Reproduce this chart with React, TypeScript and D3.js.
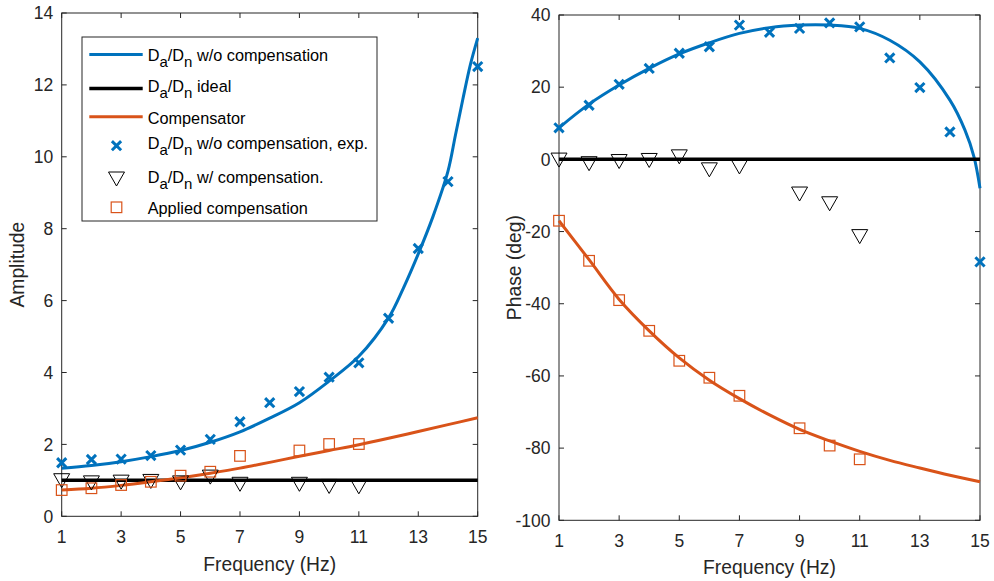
import React from 'react';
import * as d3 from 'd3';

// ---------- data ----------
const freq = [1, 2, 3, 4, 5, 6, 7, 8, 9, 10, 11, 12, 13, 14, 15];
const compFreq = [1, 2, 3, 4, 5, 6, 7, 9, 10, 11];

// Amplitude panel
const ampExp = [1.49, 1.58, 1.59, 1.69, 1.84, 2.14, 2.63, 3.16, 3.47, 3.87, 4.27, 5.51, 7.45, 9.31, 12.51];
const ampWithComp = [0.99, 0.93, 0.95, 0.97, 0.93, 1.09, 0.89, 0.89, 0.83, 0.82];
const ampApplied = [0.73, 0.78, 0.87, 0.96, 1.13, 1.24, 1.68, 1.83, 2.01, 2.01];
const ampModelFreq = [1, 2, 3, 4, 5, 6, 7, 8, 9, 10, 11, 12, 12.5, 13, 13.5, 14, 14.25, 14.5, 14.75, 15];
const ampModel = [1.335, 1.41, 1.52, 1.66, 1.83, 2.06, 2.35, 2.73, 3.16, 3.76, 4.45, 5.52, 6.35, 7.3, 8.35, 9.6, 10.6, 11.6, 12.55, 13.3];
const ampCompensator = [0.73, 0.78, 0.86, 0.96, 1.07, 1.2, 1.34, 1.5, 1.67, 1.83, 1.99, 2.17, 2.36, 2.55, 2.74];
const ampIdeal = [1, 1];

// Phase panel
const phaseExp = [8.75, 15.0, 20.8, 25.2, 29.4, 31.2, 37.2, 35.2, 36.3, 37.8, 36.7, 28.1, 19.9, 7.6, -28.4];
const phaseWithComp = [-0.2, -1.2, -0.6, -0.3, 0.7, -2.9, -2.1, -9.6, -12.3, -21.4];
const phaseApplied = [-17.0, -28.1, -39.0, -47.5, -55.8, -60.5, -65.5, -74.5, -79.3, -83.1];
const phaseModelFreq = [1, 2, 3, 4, 5, 6, 7, 8, 9, 10, 11, 12, 13, 14, 14.5, 14.8, 15];
const phaseModel = [8.75, 15.3, 20.6, 25.2, 29.2, 32.3, 34.9, 36.5, 37.2, 37.2, 36.3, 33.0, 27.0, 16.4, 8.1, 0.7, -8.0];
const phaseCompensator = [-17.0, -27.8, -38.8, -47.5, -55.0, -61.2, -66.3, -70.8, -74.8, -78.0, -80.9, -83.4, -85.5, -87.5, -89.3];
const phaseIdeal = [0, 0];

const xTicks = [1, 3, 5, 7, 9, 11, 13, 15];
const ampTicks = [0, 2, 4, 6, 8, 10, 12, 14];
const phaseTicks = [-100, -80, -60, -40, -20, 0, 20, 40];

const legendLabels = [
  ['D', 'a', '/D', 'n', ' w/o compensation'],
  ['D', 'a', '/D', 'n', ' ideal'],
  ['Compensator'],
  ['D', 'a', '/D', 'n', ' w/o compensation, exp.'],
  ['D', 'a', '/D', 'n', ' w/ compensation.'],
  ['Applied compensation'],
];

// ---------- style ----------
const FONT = '"Liberation Sans", Arial, Helvetica, sans-serif';
const AX = '#262626';
const BLUE = '#0072BD';
const ORANGE = '#D95319';
const TICK = 5;

const XMark = ({ cx, cy, s = 4.6 }: any) => (
  <path d={`M${cx - s},${cy - s}L${cx + s},${cy + s}M${cx - s},${cy + s}L${cx + s},${cy - s}`} stroke={BLUE} strokeWidth={3} fill="none" />
);
const Tri = ({ cx, cy }: any) => (
  <path d={`M${cx - 8},${cy - 7}L${cx + 8},${cy - 7}L${cx},${cy + 7}Z`} stroke="#000" strokeWidth={1} fill="none" strokeLinejoin="miter" />
);
const Sq = ({ cx, cy }: any) => (
  <rect x={cx - 5.3} y={cy - 5.3} width={10.6} height={10.6} stroke={ORANGE} strokeWidth={1.2} fill="none" />
);

function Frame({ x, y, yTicks, xLabelY, tickBaseline, yLabel, yLabelX }: any) {
  const [x0, x1] = x.range();
  const [yb, yt] = y.range();
  return (
    <g fontFamily={FONT} fill={AX}>
      <rect x={x0} y={yt} width={x1 - x0} height={yb - yt} fill="none" stroke={AX} strokeWidth={1} />
      {xTicks.map((t) => (
        <g key={'x' + t}>
          <line x1={x(t)} x2={x(t)} y1={yb} y2={yb - TICK} stroke={AX} />
          <line x1={x(t)} x2={x(t)} y1={yt} y2={yt + TICK} stroke={AX} />
          <text x={x(t)} y={tickBaseline} textAnchor="middle" fontSize={17.5}>{t}</text>
        </g>
      ))}
      {yTicks.map((t: number) => (
        <g key={'y' + t}>
          <line x1={x0} x2={x0 + TICK} y1={y(t)} y2={y(t)} stroke={AX} />
          <line x1={x1} x2={x1 - TICK} y1={y(t)} y2={y(t)} stroke={AX} />
          <text x={x0 - 8.5} y={y(t) + 6.2} textAnchor="end" fontSize={17.5}>{t}</text>
        </g>
      ))}
      <text x={(x0 + x1) / 2} y={xLabelY} textAnchor="middle" fontSize={19.3}>Frequency (Hz)</text>
      <text transform={`translate(${yLabelX},${(yb + yt) / 2}) rotate(-90)`} textAnchor="middle" fontSize={19.3}>{yLabel}</text>
    </g>
  );
}

function LegendText({ parts, x, y }: any) {
  if (parts.length === 1) return <text x={x} y={y} fontSize={16.3} fontFamily={FONT} fill="#000">{parts[0]}</text>;
  return (
    <text x={x} y={y} fontSize={16.3} fontFamily={FONT} fill="#000">
      {parts[0]}
      <tspan dy={6} fontSize={15}>{parts[1]}</tspan>
      <tspan dy={-6}>{parts[2]}</tspan>
      <tspan dy={6} fontSize={15}>{parts[3]}</tspan>
      <tspan dy={-6}>{parts[4]}</tspan>
    </text>
  );
}

export default function App() {
  const xL = d3.scaleLinear().domain([1, 15]).range([61.7, 477.7]);
  const yL = d3.scaleLinear().domain([0, 14]).range([516.3, 13]);
  const xR = d3.scaleLinear().domain([1, 15]).range([559, 980]);
  const yR = d3.scaleLinear().domain([-100, 40]).range([520.3, 15]);

  const lineGen = (xs: any, ys: any, fx: number[], vy: number[]) =>
    d3.line<number>().x((_, i) => xs(fx[i])).y((v) => ys(v)).curve(d3.curveCatmullRom.alpha(0.5))(vy) as string;

  const rowsY = [54.5, 88.5, 116.7, 145.7, 179, 207.3];
  const baseY = [60.7, 91.5, 124, 149.3, 183.3, 214];

  return (
    <svg width={994} height={581} style={{ position: 'absolute', left: 0, top: 0, background: '#fff' }}>
      <rect width={994} height={581} fill="#fff" />
      {/* ---- Left panel ---- */}
      <Frame x={xL} y={yL} yTicks={ampTicks} xLabelY={571} tickBaseline={543} yLabel="Amplitude" yLabelX={24} />
      <path d={lineGen(xL, yL, ampModelFreq, ampModel)} stroke={BLUE} strokeWidth={3} fill="none" />
      <path d={lineGen(xL, yL, [1, 15], ampIdeal)} stroke="#000" strokeWidth={3.5} fill="none" />
      <path d={lineGen(xL, yL, freq, ampCompensator)} stroke={ORANGE} strokeWidth={3} fill="none" />
      {ampExp.map((v, i) => <XMark key={'ae' + i} cx={xL(freq[i])} cy={yL(v)} />)}
      {ampWithComp.map((v, i) => <Tri key={'aw' + i} cx={xL(compFreq[i])} cy={yL(v)} />)}
      {ampApplied.map((v, i) => <Sq key={'aa' + i} cx={xL(compFreq[i])} cy={yL(v)} />)}

      {/* legend */}
      <rect x={82} y={37} width={295} height={184} fill="#fff" stroke={AX} strokeWidth={1} />
      <line x1={89.3} x2={142.7} y1={rowsY[0]} y2={rowsY[0]} stroke={BLUE} strokeWidth={3} />
      <line x1={89.3} x2={142.7} y1={rowsY[1]} y2={rowsY[1]} stroke="#000" strokeWidth={3.5} />
      <line x1={89.3} x2={142.7} y1={rowsY[2]} y2={rowsY[2]} stroke={ORANGE} strokeWidth={3} />
      <XMark cx={116.5} cy={rowsY[3]} />
      <Tri cx={116.5} cy={rowsY[4]} />
      <Sq cx={116.5} cy={rowsY[5]} />
      {legendLabels.map((p, i) => <LegendText key={'lg' + i} parts={p} x={147.7} y={baseY[i]} />)}

      {/* ---- Right panel ---- */}
      <Frame x={xR} y={yR} yTicks={phaseTicks} xLabelY={574} tickBaseline={547} yLabel="Phase (deg)" yLabelX={520.5} />
      <path d={lineGen(xR, yR, phaseModelFreq, phaseModel)} stroke={BLUE} strokeWidth={3} fill="none" />
      <path d={lineGen(xR, yR, [1, 15], phaseIdeal)} stroke="#000" strokeWidth={3.5} fill="none" />
      <path d={lineGen(xR, yR, freq, phaseCompensator)} stroke={ORANGE} strokeWidth={3} fill="none" />
      {phaseExp.map((v, i) => <XMark key={'pe' + i} cx={xR(freq[i])} cy={yR(v)} />)}
      {phaseWithComp.map((v, i) => <Tri key={'pw' + i} cx={xR(compFreq[i])} cy={yR(v)} />)}
      {phaseApplied.map((v, i) => <Sq key={'pa' + i} cx={xR(compFreq[i])} cy={yR(v)} />)}
    </svg>
  );
}
